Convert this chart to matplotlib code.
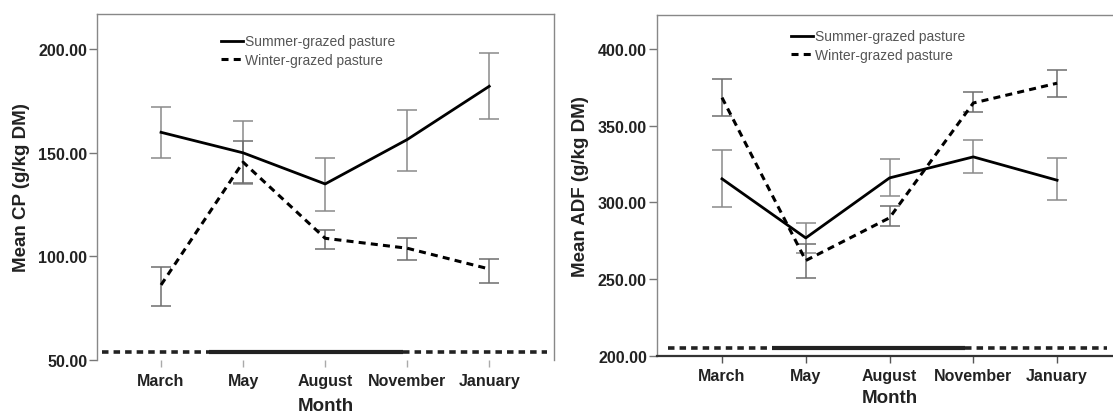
"""Two-panel SPSS-style line chart: CP and ADF by month for two pastures."""

import numpy as np
import matplotlib

matplotlib.use("Agg")
import matplotlib.pyplot as plt

plt.rcParams["font.family"] = ["Liberation Sans", "DejaVu Sans"]

months = ["March", "May", "August", "November", "January"]

cp_summer = [159.8, 149.9, 134.9, 156.3, 182.0]
cp_summer_lo = [147.3, 134.7, 122.0, 141.3, 166.2]
cp_summer_hi = [172.2, 165.3, 147.4, 170.7, 198.1]
cp_winter = [86.2, 145.4, 108.7, 103.9, 93.9]
cp_winter_lo = [76.2, 135.5, 103.6, 98.3, 87.2]
cp_winter_hi = [94.9, 155.6, 112.7, 108.9, 98.7]

adf_summer = [315.4, 276.9, 316.0, 329.7, 314.5]
adf_summer_lo = [296.9, 267.3, 304.1, 319.3, 301.3]
adf_summer_hi = [334.4, 286.5, 328.0, 340.6, 329.0]
adf_winter = [368.3, 262.2, 290.0, 364.8, 377.7]
adf_winter_lo = [356.4, 251.0, 284.4, 358.8, 368.8]
adf_winter_hi = [380.3, 273.0, 298.0, 371.8, 386.5]

cp_ticks = [50, 100, 150, 200]
adf_ticks = [200, 250, 300, 350, 400]

# stray baseline that SPSS drew near the x axis (dashed / solid / dashed)
cp_base_y = 53.7
cp_base_x = [-0.72, 0.58, 2.95, 4.71]
adf_base_y = 205.2
adf_base_x = [-0.65, 0.60, 2.90, 4.60]

DASH = (0, (2.3, 1.7))
BASE_DASH = (0, (1.8, 1.4))


def draw_panel(ax, summer, s_lo, s_hi, winter, w_lo, w_hi, ylim, yticks,
               ylabel, base_y, base_x, leg_anchor, bottom_spine, xpad):
    x = np.arange(len(months))
    s = np.array(summer)
    w = np.array(winter)
    ax.errorbar(x, s, yerr=[s - np.array(s_lo), np.array(s_hi) - s], fmt="none",
                ecolor="#8a8a8a", elinewidth=1.1, capsize=7.5, capthick=1.1, zorder=2)
    ax.errorbar(x, w, yerr=[w - np.array(w_lo), np.array(w_hi) - w], fmt="none",
                ecolor="#6e6e6e", elinewidth=1.1, capsize=7.5, capthick=1.1, zorder=2)
    ax.plot(x, s, "-", color="black", lw=2.0, zorder=3, label="Summer-grazed pasture")
    ax.plot(x, w, color="black", lw=2.2, linestyle=DASH, zorder=3,
            label="Winter-grazed pasture")

    ax.plot(base_x[0:2], [base_y] * 2, color="#222222", lw=2.6, linestyle=BASE_DASH)
    ax.plot(base_x[1:3], [base_y] * 2, color="#222222", lw=3.0, solid_capstyle="butt")
    ax.plot(base_x[2:4], [base_y] * 2, color="#222222", lw=2.6, linestyle=BASE_DASH)

    ax.set_xlim(-0.78, 4.79)
    ax.set_ylim(*ylim)
    ax.set_xticks(x)
    ax.set_xticklabels(months)
    ax.set_yticks(yticks)
    ax.set_yticklabels([f"{t:.2f}" for t in yticks])
    for lab in ax.get_xticklabels() + ax.get_yticklabels():
        lab.set_fontweight("bold")
        lab.set_fontsize(11.5)
        lab.set_color("#222222")
    ax.tick_params(axis="y", direction="out", length=6, width=1, color="#777777", pad=1)
    ax.tick_params(axis="x", direction="out", length=5, width=1, pad=4,
                   color="#555555" if bottom_spine else "#aaaaaa")

    ax.set_xlabel("Month", fontsize=13.5, fontweight="bold", labelpad=xpad, color="#222222")
    ax.set_ylabel(ylabel, fontsize=13.5, fontweight="bold", labelpad=6, color="#222222")

    for side in ["left", "top", "right"]:
        ax.spines[side].set_color("#888888")
        ax.spines[side].set_linewidth(1.0)
    if bottom_spine:
        ax.spines["bottom"].set_color("#333333")
        ax.spines["bottom"].set_linewidth(1.6)
    else:
        ax.spines["bottom"].set_visible(False)

    leg = ax.legend(loc="upper left", bbox_to_anchor=leg_anchor, frameon=False,
                    fontsize=10, handlelength=1.6, handletextpad=0.1,
                    labelspacing=0.3, borderpad=0, borderaxespad=0)
    for t in leg.get_texts():
        t.set_color("#555555")


fig = plt.figure(figsize=(11.13, 4.14), dpi=100)
ax1 = fig.add_axes([0.0872, 0.128, 0.4106, 0.8365])
ax2 = fig.add_axes([0.590, 0.1377, 0.4192, 0.8243])

draw_panel(ax1, cp_summer, cp_summer_lo, cp_summer_hi,
           cp_winter, cp_winter_lo, cp_winter_hi,
           (50, 217), cp_ticks, "Mean CP (g/kg DM)",
           cp_base_y, cp_base_x, (0.271, 0.94), False, 7)
draw_panel(ax2, adf_summer, adf_summer_lo, adf_summer_hi,
           adf_winter, adf_winter_lo, adf_winter_hi,
           (200, 422.3), adf_ticks, "Mean ADF (g/kg DM)",
           adf_base_y, adf_base_x, (0.288, 0.957), True, 4)

fig.savefig("out.png", dpi=100)
plt.close(fig)
